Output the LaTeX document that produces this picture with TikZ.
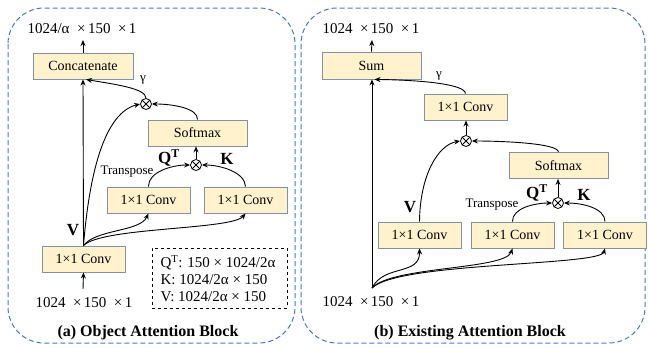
\documentclass[tikz,border=0pt]{standalone}
\usepackage{fontspec}
\setmainfont{Liberation Serif}
\usetikzlibrary{arrows.meta}
\definecolor{boxfill}{HTML}{FFF2CC}
\definecolor{boxline}{HTML}{8391A5}
\definecolor{panelblue}{HTML}{4A78C8}
\tikzset{
  blk/.style={draw=boxline, fill=boxfill, line width=0.9pt, minimum height=26pt, inner sep=0pt,
    font=\fontsize{14}{16}\selectfont},
  conv/.style={blk, minimum width=83pt},
  wide/.style={blk, minimum width=99pt},
  prod/.style={draw, circle, line width=0.8pt, minimum size=11pt, inner sep=0pt,
    path picture={\draw[line width=0.8pt] (path picture bounding box.north west) -- (path picture bounding box.south east)
      (path picture bounding box.north east) -- (path picture bounding box.south west);}},
  arr/.style={line width=0.9pt, -{Stealth[length=6pt,width=5pt]}},
  dimtxt/.style={font=\fontsize{15}{17}\selectfont},
  boldlbl/.style={font=\fontsize{17}{19}\bfseries\selectfont},
  small/.style={font=\fontsize{13}{15}\selectfont},
  panel/.style={draw=panelblue, dash pattern=on 5pt off 3pt, line width=1pt, rounded corners=36pt},
  title/.style={font=\fontsize{16}{18}\bfseries\selectfont}
}
\begin{document}
\begin{tikzpicture}[x=1pt,y=-1pt]
\useasboundingbox (0,0) rectangle (649,348);

% ---------- panel (a): object attention block ----------
\draw[panel] (8,8) rectangle (295,343);
\node[wide, minimum width=100pt] (cat) at (83,66) {Concatenate};
\node[wide] (smA) at (197.5,133) {Softmax};
\node[prod] (pA1) at (146,104) {};
\node[prod] (pA2) at (196,165) {};
\node[conv] (qA) at (148.5,200) {1×1 Conv};
\node[conv] (kA) at (245.5,200) {1×1 Conv};
\node[conv] (vA) at (83.5,259) {1×1 Conv};
\node[dimtxt] (outA) at (82,29) {1024/α\ \ ×\,150\ \ ×\,1};
\node[dimtxt] (inA) at (84,303) {1024\ \ ×\,150\ \ ×\,1};
\coordinate (tipA) at (83,40);
\coordinate (srcA) at (83,289);
\node[small] (gA) at (143,80) {γ};
\node[boldlbl] (qtA) at (169,158) {Q\textsuperscript{T}};
\node[boldlbl] (klA) at (227,159) {K};
\node[small] (trA) at (127,172) {Transpose};
\node[boldlbl] (vlA) at (73,230) {V};
\node[draw, dashed, line width=0.8pt, minimum width=135pt, minimum height=60pt] (legend) at (219.5,278) {};
\node[dimtxt, anchor=west] (l1) at (157,263) {Q\textsuperscript{T}: 150 × 1024/2α};
\node[dimtxt, anchor=west] (l2) at (157,280) {K: 1024/2α × 150};
\node[dimtxt, anchor=west] (l3) at (157,297) {V: 1024/2α × 150};
\node[title] (tA) at (148,333) {(a) Object Attention Block};

\draw[arr] (cat.north) -- (tipA);
\draw[arr] (srcA) -- (vA.south);
\draw[arr] (vA.north) -- (cat.south);
\draw[arr] (pA1.north) .. controls (146,88) and (112,84) .. ([xshift=3pt]cat.south);
\draw[arr] (smA.north) .. controls (198,108) and (172,104) .. (pA1.east);
\draw[arr] (pA2.north) -- (smA.south -| pA2.north);
\draw[arr] (qA.north) .. controls (148,172) and (172,165) .. (pA2.west);
\draw[arr] (kA.north) .. controls (245,172) and (220,165) .. (pA2.east);
\draw[arr] (vA.north) .. controls (88,190) and (100,114) .. (pA1.west);
\draw[arr] (vA.north) .. controls (96,229) and (140,232) .. (qA.south);
\draw[arr] (vA.north) .. controls (102,227) and (232,230) .. (kA.south);

% ---------- panel (b): existing attention block ----------
\draw[panel] (301,8) rectangle (645,343);
\node[wide, minimum height=27pt] (sum) at (371.5,65.5) {Sum};
\node[conv] (cB) at (465.5,107) {1×1 Conv};
\node[prod] (pB1) at (466,141) {};
\node[wide] (smB) at (558.5,165.5) {Softmax};
\node[prod] (pB2) at (558,203) {};
\node[conv] (vB) at (419.5,235) {1×1 Conv};
\node[conv] (qB) at (512.5,235) {1×1 Conv};
\node[conv] (kB) at (605,235) {1×1 Conv};
\node[dimtxt] (outB) at (371,29) {1024\ \ ×\,150\ \ ×\,1};
\node[dimtxt] (inB) at (371,302) {1024\ \ ×\,150\ \ ×\,1};
\coordinate (tipB) at (372,40);
\coordinate (srcB) at (372,288);
\node[small] (gB) at (439,76) {γ};
\node[boldlbl] (qtB) at (537,193) {Q\textsuperscript{T}};
\node[boldlbl] (klB) at (584,195) {K};
\node[small] (trB) at (492,205) {Transpose};
\node[boldlbl] (vlB) at (410,207) {V};
\node[title] (tB) at (470,333) {(b) Existing Attention Block};

\draw[arr] (sum.north) -- (tipB);
\draw[arr] (srcB) -- (sum.south -| srcB);
\draw[arr] (cB.north) .. controls (465,84) and (420,80) .. ([xshift=3pt]sum.south);
\draw[arr] (pB1.north) -- (cB.south -| pB1.north);
\draw[arr] (smB.north) .. controls (558,143) and (500,141) .. (pB1.east);
\draw[arr] (pB2.north) -- (smB.south -| pB2.north);
\draw[arr] (qB.north) .. controls (512,208) and (535,203) .. (pB2.west);
\draw[arr] (kB.north) .. controls (605,208) and (582,203) .. (pB2.east);
\draw[arr] (vB.north) .. controls (420,175) and (438,145) .. (pB1.west);
\draw[arr] (srcB) .. controls (384,264) and (420,276) .. (vB.south);
\draw[arr] (srcB) .. controls (392,266) and (505,270) .. (qB.south);
\draw[arr] (srcB) .. controls (398,262) and (600,266) .. (kB.south);
\end{tikzpicture}
\end{document}
